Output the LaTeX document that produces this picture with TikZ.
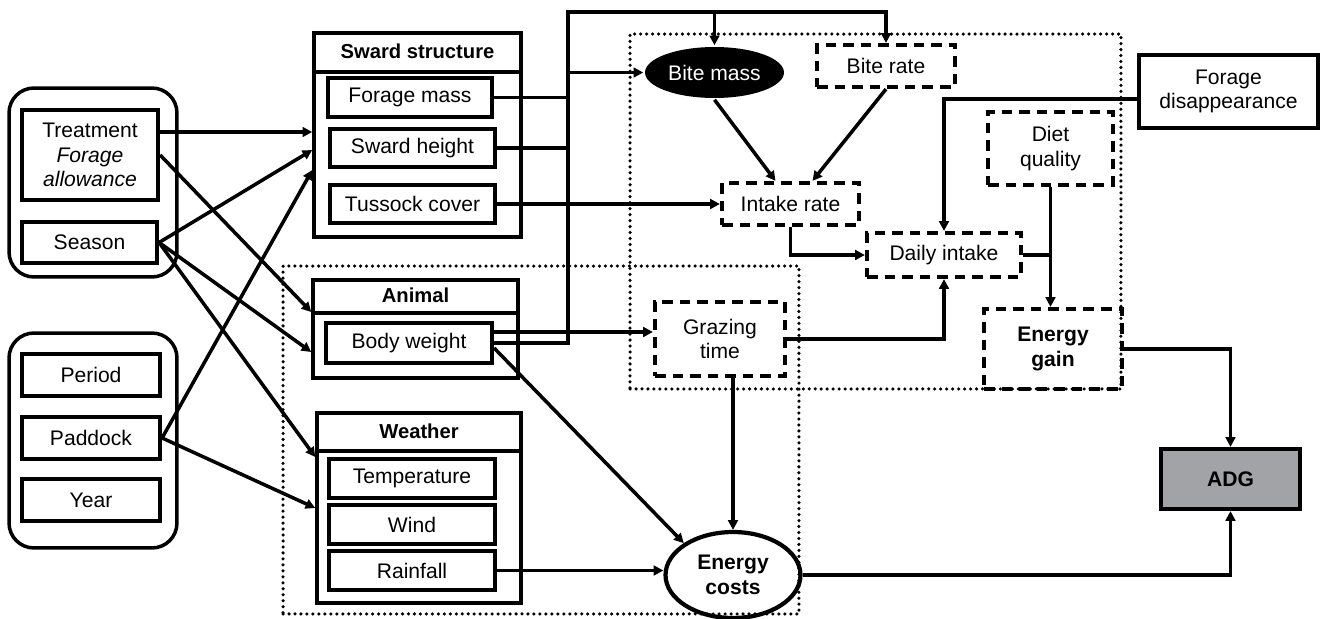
\documentclass[tikz,border=0pt]{standalone}
\usepackage{fontspec}
\setmainfont{Liberation Sans}
\usetikzlibrary{shapes.geometric,arrows.meta}

\definecolor{adggray}{HTML}{A2A3A6}
\tikzset{
	base/.style={inner sep=0pt, align=center, font=\fontsize{12}{14}\selectfont},
	sbox/.style={base, draw, line width=2.4pt},
	cont/.style={base, draw, line width=2pt},
	hdr/.style={base, font=\fontsize{11.5}{14}\selectfont\bfseries},
	grp/.style={base, draw, line width=2pt, rounded corners=0.5cm},
	dbox/.style={base, draw, line width=2.4pt, dash pattern=on 6pt off 4pt},
	dotbox/.style={draw, line width=2pt, line cap=round, dash pattern=on 0pt off 3.4pt},
	arr/.style={-{Triangle[length=5.5pt,width=5.5pt]}},
}

\begin{document}
\begin{tikzpicture}[x=0.02cm, y=-0.02cm, line width=2pt]
		\useasboundingbox (0,0) rectangle (1320,619);
		
		% dotted groups
		\node[dotbox, minimum width=9.82cm, minimum height=7.1cm] (intakegrp) at (875.5,211.5) {};
		\node[dotbox, minimum width=10.32cm, minimum height=6.96cm] (costgrp) at (541,440) {};
		
		% left inputs
		\node[grp, minimum width=3.36cm, minimum height=3.78cm] (grpa) at (93,182.5) {};
		\node[sbox, minimum width=2.72cm, minimum height=1.8cm] (treat) at (90,155) {Treatment\\\textit{Forage}\\\textit{allowance}};
		\node[sbox, minimum width=2.7cm, minimum height=0.82cm] (season) at (89.5,242.5) {Season};
		
		\node[grp, minimum width=3.36cm, minimum height=4.3cm] (grpb) at (93,440.5) {};
		\node[sbox, minimum width=2.76cm, minimum height=0.84cm] (period) at (91,375) {Period};
		\node[sbox, minimum width=2.76cm, minimum height=0.84cm] (paddock) at (91,438) {Paddock};
		\node[sbox, minimum width=2.76cm, minimum height=0.84cm] (year) at (91,500) {Year};
		
		% sward structure
		\node[cont, minimum width=4.14cm, minimum height=4.08cm] (sward) at (417.5,135) {};
		\node[hdr, anchor=north, minimum width=4.14cm, minimum height=0.74cm] (swardhd) at (sward.north) {Sward structure};
		\draw (swardhd.south west) -- (swardhd.south east);
		\node[sbox, minimum width=3.28cm, minimum height=0.78cm] (fmass) at (410,97.5) {Forage mass};
		\node[sbox, minimum width=3.3cm, minimum height=0.76cm] (sheight) at (412.5,148) {Sward height};
		\node[sbox, minimum width=3.3cm, minimum height=0.76cm] (tussock) at (412.5,204) {Tussock cover};
		
		% animal
		\node[cont, minimum width=4.1cm, minimum height=1.96cm] (animal) at (415.5,329) {};
		\node[hdr, anchor=north, minimum width=4.1cm, minimum height=0.62cm] (animalhd) at (animal.north) {Animal};
		\draw (animalhd.south west) -- (animalhd.south east);
		\node[sbox, minimum width=3.32cm, minimum height=0.8cm] (bw) at (409,343) {Body weight};
		
		% weather
		\node[cont, minimum width=4.08cm, minimum height=3.8cm] (weather) at (419,508) {};
		\node[hdr, anchor=north, minimum width=4.08cm, minimum height=0.72cm] (weatherhd) at (weather.north) {Weather};
		\draw (weatherhd.south west) -- (weatherhd.south east);
		\node[sbox, minimum width=3.32cm, minimum height=0.78cm] (temp) at (412,478.5) {Temperature};
		\node[sbox, minimum width=3.32cm, minimum height=0.78cm] (wind) at (412,524.5) {Wind};
		\node[sbox, minimum width=3.32cm, minimum height=0.78cm] (rain) at (412,570.5) {Rainfall};
		
		% intake side
		\node[base, ellipse, fill=black, text=white, minimum width=2.78cm, minimum height=1.02cm] (bmass) at (714.5,72.5) {Bite mass};
		\node[dbox, minimum width=2.76cm, minimum height=0.84cm] (brate) at (886,66) {Bite rate};
		\node[dbox, minimum width=2.74cm, minimum height=0.84cm] (irate) at (790.5,204) {Intake rate};
		\node[dbox, minimum width=3.08cm, minimum height=0.88cm] (dintake) at (944,255) {Daily intake};
		\node[dbox, minimum width=2.5cm, minimum height=1.46cm] (diet) at (1050.5,148.5) {Diet\\quality};
		\node[dbox, minimum width=2.76cm, minimum height=1.6cm, font=\fontsize{12}{14}\selectfont\bfseries] (egain) at (1053,349) {Energy\\gain};
		\node[dbox, minimum width=2.6cm, minimum height=1.48cm] (gtime) at (720,339) {Grazing\\time};
		\node[base, ellipse, draw, line width=2.4pt, minimum width=2.7cm, minimum height=1.72cm, font=\fontsize{12}{14}\selectfont\bfseries] (ecost) at (733,575) {Energy\\costs};
		\node[sbox, fill=adggray, minimum width=2.78cm, minimum height=1.2cm, font=\fontsize{12}{14}\selectfont\bfseries] (adg) at (1230.5,479) {ADG};
		\node[sbox, minimum width=3.58cm, minimum height=1.46cm] (fdis) at (1228.5,91.5) {Forage\\disappearance};
		
		% inputs to groups
		\draw[arr] ([yshift=0.46cm]treat.east) -- ([yshift=0.06cm]sward.west);
		\draw[arr] (season.east) -- ([yshift=-0.3cm]sward.west);
		\draw[arr] (paddock.east) -- ([yshift=-0.7cm]sward.west);
		\draw[arr] (treat.east) -- ([yshift=0.34cm]animal.west);
		\draw[arr] (season.east) -- ([yshift=-0.46cm]animal.west);
		\draw[arr] (season.east) -- ([yshift=1.02cm]weather.west);
		\draw[arr] (paddock.east) -- (weather.west);
		
		% bus to bite mass and bite rate
		\coordinate (bus) at (568,12);
		\draw[arr] (bw.east) -| (bus) -| (brate.north);
		\draw (fmass.east) -- (fmass.east -| bus);
		\draw (sheight.east) -- (sheight.east -| bus);
		\draw[arr] (bus |- bmass.west) -- (bmass.west);
		\draw[arr] (bus -| bmass.north) -- (bmass.north);
		
		% intake
		\draw[arr] (tussock.east) -- (irate.west);
		\draw[arr] (bmass.south) -- ([xshift=-0.3cm]irate.north);
		\draw[arr] (brate.south) -- ([xshift=0.44cm]irate.north);
		\draw[arr] (irate.south) |- (dintake.west);
		\draw[arr] ([yshift=-0.15cm]fdis.west) -| (dintake.north);
		\draw[arr] ([yshift=0.22cm]bw.east) -- ([yshift=0.22cm]bw.east -| gtime.west);
		\draw[arr] (gtime.east) -| (dintake.south);
		\draw (dintake.east) -- (dintake.east -| diet.south);
		\draw[arr] (diet.south) -- (diet.south |- egain.north);
		
		% costs
		\draw[arr] ([yshift=-0.1cm]bw.east) -- (ecost.north west);
		\draw[arr] (ecost.north |- gtime.south) -- (ecost.north);
		\draw[arr] (rain.east) -- (rain.east -| ecost.west);
		
		% ADG
		\draw[arr] (egain.east) -| (adg.north);
		\draw[arr] (ecost.east) -| (adg.south);
	\end{tikzpicture}
\end{document}
